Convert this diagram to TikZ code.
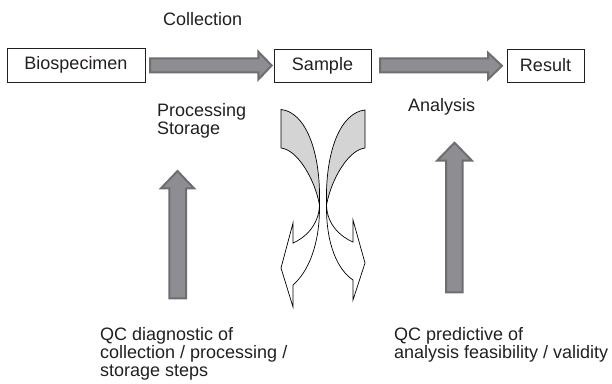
\documentclass[tikz,border=0pt]{standalone}
\usepackage{fontspec}
\setmainfont{Liberation Sans}
\definecolor{txt}{HTML}{231F20}
\definecolor{arrfill}{HTML}{8E8E92}
\definecolor{arrline}{HTML}{6E6E72}
\definecolor{bandgray}{HTML}{D4D4D4}
\tikzset{
  lbl/.style={anchor=base west, inner sep=0pt, text=txt, font=\fontsize{18}{18}\selectfont},
  boxnode/.style={draw=txt, line width=0.8pt, inner sep=0pt, text=txt, font=\fontsize{18}{18}\selectfont},
  blockarrow/.style={fill=arrfill, draw=arrline, line width=2pt, line join=miter},
  band/.style={draw=black, line width=0.7pt, line join=miter},
}
\begin{document}
\begin{tikzpicture}[x=1pt, y=-1pt]
\useasboundingbox (0,0) rectangle (612,383);

% boxes
\node[boxnode, minimum width=138pt, minimum height=34pt] (bio) at (76,65) {Biospecimen};
\node[boxnode, minimum width=97pt, minimum height=33pt] (sample) at (322.5,65.5) {Sample};
\node[boxnode, minimum width=77pt, minimum height=33pt] (result) at (545.5,65.5) {Result};

% horizontal block arrows
\draw[blockarrow] (150,58.3) -- (258.3,58.3) -- (258.3,51.7) -- (271.7,65.5) -- (258.3,79.5) -- (258.3,72.3) -- (150,72.3) -- cycle;
\draw[blockarrow] (380,58.3) -- (488,58.3) -- (488,52.7) -- (502,65.8) -- (488,79.3) -- (488,72.3) -- (380,72.3) -- cycle;

% vertical block arrows
\draw[blockarrow] (169.3,298.3) -- (169.3,188.3) -- (161,188.3) -- (177.5,171) -- (194,188.3) -- (186,188.3) -- (186,298.3) -- cycle;
\draw[blockarrow] (446,292.3) -- (446,160.7) -- (437,160.7) -- (454.5,142.7) -- (472,160.7) -- (462.7,160.7) -- (462.7,292.3) -- cycle;

% left twisted curved arrow
\fill[bandgray] (281,109.5) .. controls (305,112) and (321,150) .. (319.5,205)
   .. controls (315,180) and (298,150) .. (281,148) -- cycle;
\draw[band] (281,148) -- (281,109.5) .. controls (305,112) and (321,150) .. (319.5,205)
   .. controls (319,225) and (305,238) .. (293,243) -- (293,223) -- (281,268) -- (293,307) -- (293,285)
   .. controls (308,272) and (320,245) .. (319.5,205)
   .. controls (315,180) and (298,150) .. (281,148);

% right twisted curved arrow
\fill[bandgray] (365,110) .. controls (341,112.5) and (325,150) .. (326.5,205)
   .. controls (331,180) and (348,150) .. (365,148) -- cycle;
\draw[band] (365,148) -- (365,110) .. controls (341,112.5) and (325,150) .. (326.5,205)
   .. controls (327,225) and (341,237) .. (353,242) -- (353,220) -- (365,263) -- (353,300) -- (353,280)
   .. controls (338,270) and (326,245) .. (326.5,205)
   .. controls (331,180) and (348,150) .. (365,148);

% labels
\node[lbl] (coll) at (163,25) {Collection};
\node[lbl] (proc) at (157,116) {Processing};
\node[lbl] (stor) at (157,134) {Storage};
\node[lbl] (anal) at (408,111) {Analysis};
\node[lbl] (qc1a) at (100,340) {QC diagnostic of};
\node[lbl] (qc1b) at (100,358) {collection / processing /};
\node[lbl] (qc1c) at (100,376) {storage steps};
\node[lbl] (qc2a) at (394,340) {QC predictive of};
\node[lbl] (qc2b) at (394,358) {analysis feasibility / validity};
\end{tikzpicture}
\end{document}
